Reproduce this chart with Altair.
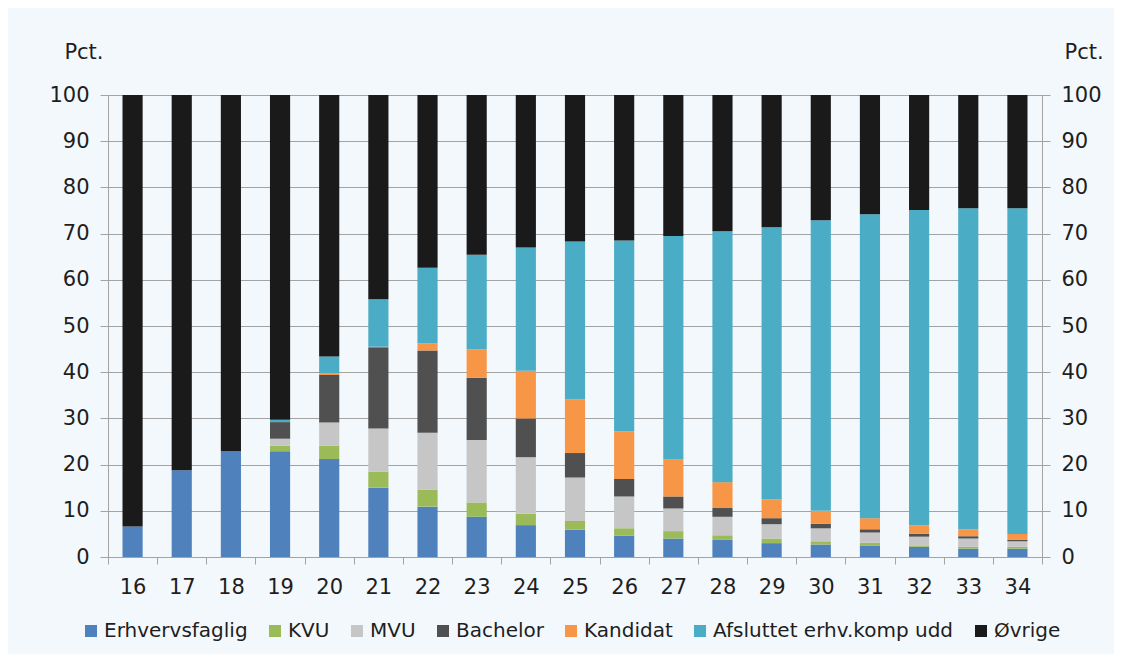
import altair as alt
import pandas as pd

ages = ["16", "17", "18", "19", "20", "21", "22", "23", "24", "25",
        "26", "27", "28", "29", "30", "31", "32", "33", "34"]

series_names = ["Erhvervsfaglig", "KVU", "MVU", "Bachelor", "Kandidat",
                "Afsluttet erhv.komp udd", "Øvrige"]
colors = ["#4F81BD", "#9BBB59", "#C6C6C6", "#505050", "#F79646", "#4BACC6", "#1A1A1A"]

erhvervsfaglig = [6.6, 18.8, 22.9, 22.9, 21.2, 15.0, 10.9, 8.7, 6.9, 5.9, 4.6, 4.0, 3.7, 3.0, 2.7, 2.5, 2.2, 1.8, 1.8]
kvu = [0, 0, 0, 1.2, 2.9, 3.5, 3.7, 3.1, 2.5, 1.9, 1.6, 1.6, 1.0, 1.0, 0.7, 0.6, 0.3, 0.4, 0.4]
mvu = [0, 0, 0, 1.5, 5.0, 9.3, 12.3, 13.5, 12.2, 9.4, 6.9, 4.9, 4.0, 3.1, 2.8, 2.2, 1.9, 1.8, 1.2]
bachelor = [0, 0, 0, 3.6, 10.3, 17.6, 17.8, 13.5, 8.4, 5.3, 3.8, 2.6, 1.9, 1.3, 1.0, 0.7, 0.6, 0.5, 0.3]
kandidat = [0, 0, 0, 0, 0.4, 0.1, 1.5, 6.2, 10.3, 11.6, 10.3, 8.1, 5.6, 4.1, 2.8, 2.4, 1.9, 1.5, 1.3]
afsluttet = [0, 0, 0, 0.5, 3.6, 10.3, 16.4, 20.4, 26.7, 34.2, 41.3, 48.3, 54.3, 58.9, 62.9, 65.8, 68.2, 69.5, 70.5]
ovrige = [93.4, 81.2, 77.1, 70.3, 56.6, 44.2, 37.4, 34.6, 33.0, 31.7, 31.5, 30.5, 29.5, 28.6, 27.1, 25.8, 24.9, 24.5, 24.5]

y_ticks = [0, 10, 20, 30, 40, 50, 60, 70, 80, 90, 100]

all_series = [erhvervsfaglig, kvu, mvu, bachelor, kandidat, afsluttet, ovrige]
rows = []
for si, (name, vals) in enumerate(zip(series_names, all_series)):
    for age, v in zip(ages, vals):
        if v > 0:
            rows.append({"age": age, "series": name, "value": v, "idx": si})
df = pd.DataFrame(rows)

FONT = "DejaVu Sans"
GREY = "#A3A3A3"
TXT = "#1E1E1E"
BG = "#F3F8FC"

bars = alt.Chart(df).mark_bar(width=alt.RelativeBandSize(0.41)).encode(
    x=alt.X("age:N", sort=ages,
            scale=alt.Scale(paddingInner=0, paddingOuter=0),
            axis=alt.Axis(title=None, labelAngle=0, tickBand="extent", tickSize=7,
                          tickColor=GREY, domainColor=GREY, labelFontSize=21,
                          labelBaseline="alphabetic", labelPadding=29, grid=False)),
    y=alt.Y("value:Q", stack="zero",
            scale=alt.Scale(domain=[0, 100], nice=False),
            axis=alt.Axis(values=y_ticks, grid=True, gridColor=GREY, gridWidth=1,
                          domainColor=GREY, tickColor=GREY, tickSize=8,
                          labelFontSize=21, labelPadding=11,
                          title="Pct.", titleAngle=0, titleX=-5, titleY=-37,
                          titleAlign="right", titleBaseline="alphabetic",
                          titleFontSize=21, titleFontWeight="normal")),
    color=alt.Color("series:N",
                    scale=alt.Scale(domain=series_names, range=colors),
                    legend=alt.Legend(orient="none", legendX=-27, legendY=526,
                                      direction="horizontal", columns=7, title=None,
                                      symbolType="square", symbolSize=144,
                                      symbolStrokeWidth=0, labelFontSize=20,
                                      labelOffset=3, columnPadding=17,
                                      labelLimit=400)),
    order=alt.Order("idx:Q", sort="ascending"),
)

right_axis = alt.Chart(pd.DataFrame({"v": [0, 100]})).mark_rule(strokeOpacity=0).encode(
    y=alt.Y("v:Q", scale=alt.Scale(domain=[0, 100], nice=False),
            axis=alt.Axis(orient="right", values=y_ticks, grid=False,
                          domainColor=GREY, tickColor=GREY, tickSize=8,
                          labelFontSize=21, labelPadding=11,
                          title="Pct.", titleAngle=0, titleX=22, titleY=-37,
                          titleAlign="left", titleBaseline="alphabetic",
                          titleFontSize=21, titleFontWeight="normal")),
)

chart = alt.layer(bars, right_axis).resolve_scale(y="independent").properties(
    width=934, height=462,
    autosize=alt.AutoSizeParams(type="none"),
    padding={"left": 100, "top": 87, "right": 72, "bottom": 97},
    background=BG,
).configure(font=FONT).configure_view(stroke=None).configure_axis(
    labelColor=TXT, titleColor=TXT, labelFont=FONT, titleFont=FONT
).configure_legend(labelColor=TXT, labelFont=FONT)

chart.save("out.html", embed_options={"renderer": "svg", "actions": False})
